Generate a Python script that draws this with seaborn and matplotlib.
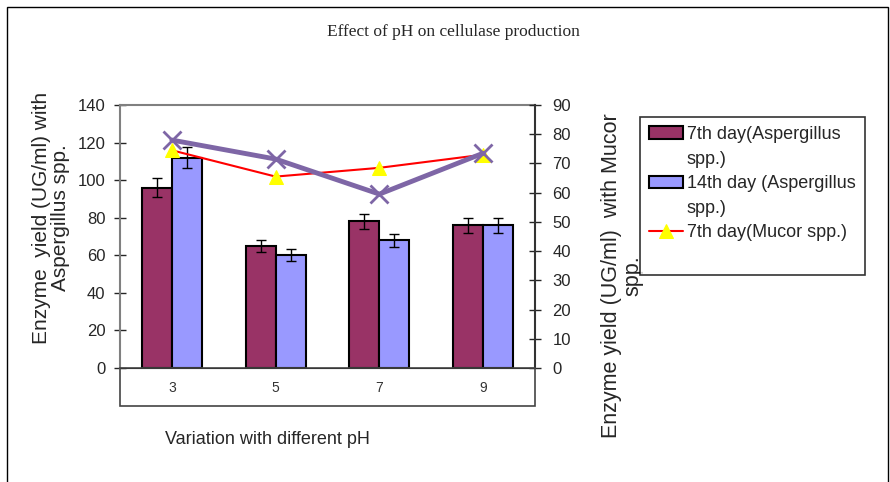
import pandas as pd
import numpy as np
import seaborn as sns
import matplotlib.pyplot as plt
from matplotlib.patches import Rectangle

# data
ph = ["3", "5", "7", "9"]
asp_7 = [96, 65, 78, 76]
asp_14 = [112, 60, 68, 76]
asp_7_err = [5.0, 3.3, 4.2, 4.0]
asp_14_err = [5.5, 3.2, 3.4, 4.0]
mucor_7 = [74.5, 65.5, 68.5, 73]
mucor_14 = [78, 71.5, 59.5, 73.5]

sns.set_style("ticks")
plt.rcParams['font.family'] = ['Liberation Sans', 'DejaVu Sans']

df = pd.DataFrame({
    "pH": ph * 2,
    "yield": asp_7 + asp_14,
    "series": ["7th day(Aspergillus spp.)"] * 4 + ["14th day (Aspergillus spp.)"] * 4,
})

fig = plt.figure(figsize=(8.9, 4.82), dpi=100)
ax = fig.add_axes([120/890, 1-368/482, 415/890, 263/482])

sns.barplot(data=df, x="pH", y="yield", hue="series", ax=ax,
            palette=["#993366", "#9999FF"], saturation=1, width=0.58, gap=0,
            edgecolor="black", linewidth=1.5, errorbar=None, legend=False)

# error bars on the bar centres
n = len(ph)
bars = ax.patches[:2*n]
xs = [b.get_x() + b.get_width()/2 for b in bars]
ax.errorbar(xs, asp_7 + asp_14, yerr=asp_7_err + asp_14_err, fmt="none",
            ecolor="black", elinewidth=1, capsize=3.5, capthick=1, zorder=5)

ax.set_ylim(0, 140)
ax.set_yticks(range(0, 141, 20))
ax.set_xlabel("")
ax.set_ylabel("")
ax.tick_params(axis="y", direction="inout", length=9, width=1, labelsize=12, pad=6)
ax.tick_params(axis="x", length=0, labelsize=10, pad=9, colors="#333333")
for s in ["top", "left"]:
    ax.spines[s].set_color("#808080")
    ax.spines[s].set_linewidth(1.5)
ax.spines["bottom"].set_color("black")
ax.spines["right"].set_visible(False)

ax2 = ax.twinx()
pos = np.arange(n)
sns.lineplot(x=pos, y=mucor_7, ax=ax2, color="red", linewidth=1.5,
             marker="^", markersize=10, markerfacecolor="yellow",
             markeredgecolor="yellow", label="7th day(Mucor spp.)", zorder=3)
sns.lineplot(x=pos, y=mucor_14, ax=ax2, color="#7E66A6", linewidth=3.5,
             marker="x", markersize=13, markeredgewidth=2,
             markeredgecolor="#7E66A6", zorder=4)
ax2.set_ylim(0, 90)
ax2.set_yticks(range(0, 91, 10))
ax2.set_xlim(-0.5, n - 0.5)
ax2.tick_params(axis="y", direction="inout", length=9, width=1, labelsize=12, pad=8)
ax2.spines["right"].set_color("#333333")
ax2.spines["right"].set_linewidth(1.5)
for s in ["top", "left", "bottom"]:
    ax2.spines[s].set_visible(False)
if ax2.get_legend() is not None:
    ax2.get_legend().remove()

# box under the plot holding the pH labels
fig.patches.append(Rectangle((120/890, 1-406/482), 415/890, 38/482,
                             transform=fig.transFigure, fill=False,
                             edgecolor="#444444", linewidth=1.2))
# outer chart border
fig.patches.append(Rectangle((7/890, -0.05), 881/890, 1.05 - 7/482,
                             transform=fig.transFigure, fill=False,
                             edgecolor="black", linewidth=1))

fig.text(453/890, 1-32/482, "Effect of pH on cellulase production",
         family="Liberation Serif", fontsize=12.5, ha="center", va="center")
fig.text(51/890, 1-218/482, "Enzyme  yield (UG/ml) with\nAspergillus spp.",
         rotation=90, fontsize=15, ha="center", va="center",
         multialignment="center", linespacing=1.0)
fig.text(622/890, 1-276/482, "Enzyme yield (UG/ml)  with Mucor\nspp.",
         rotation=90, fontsize=15.5, ha="center", va="center",
         multialignment="center", linespacing=1.0)
fig.text(267/890, 1-440/482, "Variation with different pH",
         fontsize=13, ha="center", va="center")

# legend: wrapped labels as separate rows so the key sits on the first line
blank = Rectangle((0, 0), 1, 1, alpha=0)
handles = [bars[0], blank, bars[n], blank, ax2.get_lines()[0], blank]
labels = ["7th day(Aspergillus", "spp.)", "14th day (Aspergillus", "spp.)",
          "7th day(Mucor spp.)", " "]
leg = fig.legend(handles, labels, loc="upper left",
                 bbox_to_anchor=(640/890, 1-117/482), fontsize=13,
                 frameon=True, fancybox=False, edgecolor="black",
                 borderpad=0.5, handlelength=1.9, handletextpad=0.2,
                 labelspacing=0.42, borderaxespad=0)
leg.get_frame().set_linewidth(1.2)

fig.savefig("out.png", dpi=100)
